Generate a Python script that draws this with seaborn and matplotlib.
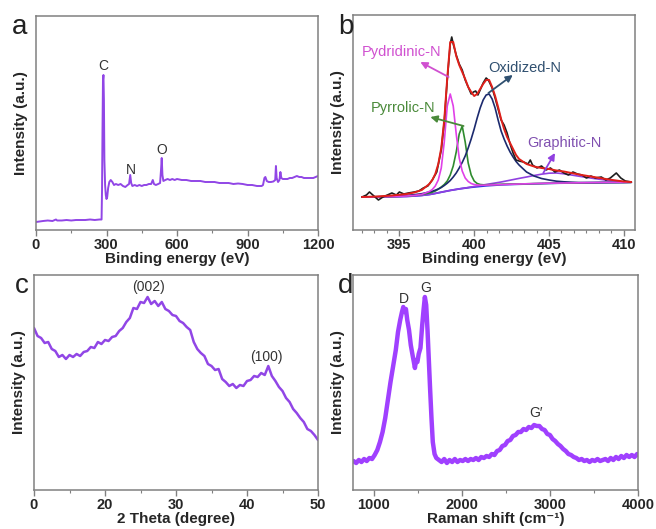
import matplotlib
matplotlib.use("Agg")
import matplotlib.pyplot as plt
import seaborn as sns
from matplotlib.ticker import MultipleLocator, AutoMinorLocator

# ---- panel a: XPS survey ----
survey_ev = [0, 15, 30, 50, 70, 85, 90, 110, 130, 150, 170, 190, 210, 230, 250, 270, 279,
             281, 283, 285, 287, 289, 291, 294, 297, 300, 303, 307, 312, 318, 325, 332, 340,
             350, 360, 370, 380, 390, 396, 401, 405, 410, 420, 430, 440, 450, 460, 470, 480,
             490, 497, 502, 510, 520, 528, 532, 535, 538, 542, 550, 560, 570, 580, 590, 600,
             620, 640, 660, 680, 700, 720, 740, 760, 780, 800, 820, 840, 860, 880, 900, 920,
             940, 960, 966, 972, 976, 982, 990, 1000, 1010, 1018, 1021, 1024, 1030, 1036,
             1040, 1044, 1050, 1060, 1070, 1080, 1090, 1100, 1110, 1120, 1130, 1140, 1150,
             1160, 1170, 1180, 1190, 1200]
survey_int = [8, 8.5, 9, 9.5, 9, 10.5, 9.5, 9.5, 10, 9.5, 10, 10, 10, 10.5, 10, 10.5, 10.5,
              40, 100, 150, 155, 130, 70, 45, 35, 31, 33, 42, 48, 50, 48, 45, 46,
              45, 46, 44, 43, 45, 46, 55, 47, 44, 45, 44, 45, 44, 45, 45, 46,
              46, 50, 46, 45, 46, 47, 60, 72, 55, 49, 50, 51, 50, 51, 50, 51,
              50, 50, 49, 49, 49, 48, 48, 48, 47, 47, 47, 46, 46.5, 46, 45, 45,
              44, 44, 45, 52, 53, 49, 48, 48, 48.5, 50, 64, 52, 48, 50,
              58, 52, 51, 51, 51, 52, 52, 53, 54, 53, 53, 52, 52,
              52, 52, 52, 53, 54]
survey_peaks = ["C", "N", "O"]
survey_peak_ev = [286, 403, 533]
survey_peak_int = [164, 60, 80]

# ---- panel b: N 1s fit ----
n1s_ev = [392.5, 393.5, 394.5, 395.5, 396.0, 396.5,
          397.0, 397.2, 397.4, 397.6, 397.8, 398.0, 398.2, 398.4, 398.6, 398.8,
          399.0, 399.2, 399.4, 399.6, 399.8, 400.0, 400.2, 400.4, 400.6, 400.8,
          401.0, 401.2, 401.4, 401.6, 401.8, 402.0, 402.2, 402.4, 402.6, 402.8, 403.0,
          403.5, 404.0, 404.5, 405.0, 405.5, 406.0, 406.5, 407.0,
          408.0, 409.0, 410.0, 410.5]
n1s_background = [33.0, 33.0, 33.2, 33.6, 34.0, 34.6,
                  35.5, 36.0, 36.6, 37.2, 37.8, 38.4, 39.0, 39.6, 40.1, 40.6,
                  41.1, 41.5, 41.9, 42.3, 42.7, 43.0, 43.3, 43.6, 43.9, 44.2,
                  44.4, 44.6, 44.8, 45.0, 45.2, 45.3, 45.4, 45.5, 45.6, 45.7, 45.8,
                  46.0, 46.2, 46.4, 46.6, 46.8, 46.9, 47.0, 47.1,
                  47.3, 47.5, 47.6, 47.7]
n1s_pyridinic = [33.0, 33.1, 33.4, 34.0, 34.6, 35.6,
                 38.5, 40.5, 44.0, 50.0, 62.0, 88.0, 124.0, 136.0, 124.0, 96.0,
                 72.0, 59.0, 52.0, 48.5, 46.5, 45.5, 45.0, 44.8, 44.8, 44.9,
                 45.0, 45.1, 45.2, 45.3, 45.4, 45.5, 45.6, 45.7, 45.8, 45.9, 46.0,
                 46.2, 46.4, 46.6, 46.8, 46.9, 47.0, 47.1, 47.2,
                 47.4, 47.6, 47.7, 47.8]
n1s_pyrrolic = [33.0, 33.1, 33.4, 34.0, 34.6, 35.5,
                37.0, 37.8, 39.0, 40.8, 43.0, 45.5, 49.0, 55.0, 64.0, 78.0,
                96.0, 104.0, 88.0, 67.0, 55.0, 49.0, 46.5, 45.5, 45.2, 45.2,
                45.3, 45.4, 45.5, 45.6, 45.7, 45.8, 45.8, 45.9, 45.9, 46.0, 46.0,
                46.2, 46.4, 46.5, 46.7, 46.8, 46.9, 47.0, 47.1,
                47.3, 47.5, 47.6, 47.7]
n1s_oxidized = [33.0, 33.3, 33.8, 34.6, 35.3, 36.3,
                38.0, 38.8, 39.8, 41.0, 42.5, 44.5, 46.8, 49.5, 53.0, 57.0,
                62.0, 67.5, 74.0, 82.0, 91.0, 101.0, 112.0, 122.0, 130.0, 135.0,
                136.0, 131.0, 122.0, 110.0, 99.0, 91.0, 84.0, 78.0, 73.0, 68.5, 65.0,
                58.0, 54.0, 51.5, 50.0, 48.8, 48.2, 47.8, 47.5,
                47.4, 47.5, 47.6, 47.7]
n1s_graphitic = [33.0, 33.0, 33.2, 33.6, 34.0, 34.6,
                 35.5, 36.0, 36.6, 37.2, 37.8, 38.4, 39.0, 39.6, 40.1, 40.6,
                 41.1, 41.6, 42.0, 42.5, 43.0, 43.5, 44.0, 44.5, 45.0, 45.5,
                 46.0, 46.5, 47.0, 47.5, 48.0, 48.6, 49.2, 49.8, 50.4, 51.0, 51.6,
                 53.0, 54.5, 55.8, 56.8, 57.0, 56.2, 55.0, 53.8,
                 51.5, 49.5, 48.2, 47.9]
n1s_envelope = [33.0, 33.5, 34.5, 36.0, 37.5, 40.0,
                46.0, 50.0, 56.0, 66.0, 82.0, 110.0, 152.0, 188.0, 188.0, 174.0,
                165.0, 158.0, 151.0, 143.0, 138.0, 134.0, 136.0, 141.0, 146.0, 150.0,
                150.0, 143.0, 134.0, 123.0, 111.0, 101.0, 93.0, 87.0, 81.0, 75.0, 71.0,
                66.0, 63.5, 62.0, 61.0, 59.5, 58.5, 57.0, 55.5,
                53.0, 50.5, 48.5, 48.0]
raw_ev = [392.5, 392.8, 393.0, 393.3, 393.6, 393.9, 394.2, 394.5, 394.8, 395.0, 395.3,
          395.6, 396.0, 396.3, 396.6, 396.9, 397.2, 397.5, 397.8, 398.0, 398.2, 398.4,
          398.5, 398.6, 398.8, 399.0, 399.2, 399.4, 399.6, 399.8, 399.95, 400.1, 400.25,
          400.4, 400.6, 400.8, 400.95, 401.2, 401.4, 401.6, 401.8, 402.0, 402.2, 402.4,
          402.6, 402.8, 403.0, 403.3, 403.6, 403.75, 403.9, 404.2, 404.5, 404.8, 405.1,
          405.4, 405.7, 406.0, 406.3, 406.6, 406.9, 407.2, 407.5, 407.8, 408.1, 408.5,
          408.8, 409.1, 409.5, 409.8, 410.1, 410.5]
raw_int = [33, 35, 38, 34, 30, 33, 35, 37, 35, 38, 36,
           37, 38, 39, 42, 44, 50, 58, 80, 108, 150, 186,
           193, 186, 175, 166, 160, 150, 143, 136, 138, 139, 135,
           140, 147, 152, 150, 142, 132, 121, 110, 105, 97, 86,
           77, 70, 69, 68, 66, 70, 65, 62, 64, 60, 62,
           58, 60, 57, 55, 58, 56, 55, 52, 54, 52, 53,
           50, 52, 57, 52, 49, 48]
n1s_labels = ["Pydridinic-N", "Pyrrolic-N", "Oxidized-N", "Graphitic-N"]
n1s_label_xy = [(395.17, 178), (395.23, 122), (403.4, 162), (406.0, 87)]
n1s_arrow_tail = [(398.29, 153), (399.29, 104), (400.95, 137), (404.62, 57)]
n1s_arrow_head = [(396.4, 168), (397.07, 113), (402.58, 155), (405.4, 77)]

# ---- panel c: XRD ----
xrd_2theta = [10.0, 10.5, 11.0, 11.5, 12.0, 12.5, 13.0, 13.5, 14.0, 14.5, 15.0, 15.5, 16.0,
              16.5, 17.0, 17.5, 18.0, 18.5, 19.0, 19.5, 20.0, 20.5, 21.0, 21.5, 22.0, 22.5,
              23.0, 23.5, 24.0, 24.5, 25.0, 25.5, 26.0, 26.5, 27.0, 27.5, 28.0, 28.5, 29.0,
              29.5, 30.0, 30.5, 31.0, 31.5, 32.0, 32.5, 33.0, 33.5, 34.0, 34.5, 35.0, 35.5,
              36.0, 36.5, 37.0, 37.5, 38.0, 38.5, 39.0, 39.5, 40.0, 40.5, 41.0, 41.5, 42.0,
              42.5, 43.0, 43.5, 44.0, 44.5, 45.0, 45.5, 46.0, 46.5, 47.0, 47.5, 48.0, 48.5,
              49.0, 49.5, 50.0]
xrd_int = [162, 154, 152, 147, 148, 141, 139, 133, 135, 131, 135, 133, 136,
           134, 138, 139, 143, 142, 148, 146, 150, 149, 153, 154, 159, 162,
           168, 172, 182, 181, 188, 187, 193, 186, 189, 184, 188, 181, 179,
           175, 174, 169, 167, 163, 160, 148, 141, 137, 134, 126, 124, 120,
           121, 111, 108, 104, 106, 102, 105, 104, 109, 110, 114, 113, 117,
           115, 124, 114, 109, 103, 99, 92, 88, 81, 77, 72, 68, 61,
           59, 55, 50]
xrd_peaks = ["(002)", "(100)"]
xrd_peak_x = [26.1, 42.7]
xrd_peak_y = [203, 133]
xrd_ticks = [10, 20, 30, 40, 50]
xrd_ticklabels = ["0", "20", "30", "40", "50"]

# ---- panel d: Raman ----
raman_shift = [770, 800, 830, 860, 890, 920, 950, 980, 1010, 1040, 1070, 1100, 1130, 1160,
               1190, 1220, 1250, 1275, 1300, 1320, 1335, 1350, 1365, 1380, 1400, 1420, 1440,
               1455, 1467, 1480, 1495, 1510, 1530, 1550, 1565, 1580, 1595, 1610, 1625, 1640,
               1655, 1670, 1690, 1710, 1740, 1770, 1800, 1830, 1860, 1890, 1920, 1950, 1980,
               2010, 2040, 2070, 2100, 2130, 2160, 2190, 2220, 2250, 2280, 2310, 2340, 2370,
               2400, 2430, 2460, 2490, 2520, 2550, 2580, 2610, 2640, 2670, 2700, 2730, 2760,
               2790, 2820, 2850, 2880, 2910, 2940, 2970, 3000, 3030, 3060, 3090, 3120, 3150,
               3180, 3210, 3240, 3270, 3300, 3330, 3360, 3390, 3420, 3450, 3480, 3510, 3540,
               3570, 3600, 3630, 3660, 3690, 3720, 3750, 3780, 3810, 3840, 3870, 3900, 3930,
               3960, 3990, 4000]
raman_int = [29, 27, 30, 28, 31, 29, 32, 31, 35, 40, 48, 58, 72, 90,
             108, 124, 140, 158, 170, 178, 183, 178, 181, 170, 160, 145, 135,
             128, 122, 130, 128, 136, 142, 165, 180, 193, 185, 160, 130, 100,
             72, 48, 36, 32, 30, 28, 31, 27, 30, 28, 31, 28, 30,
             29, 31, 29, 31, 30, 32, 30, 33, 32, 34, 33, 36, 35,
             39, 40, 44, 45, 49, 50, 54, 55, 58, 58, 61, 60, 63,
             62, 65, 64, 64, 61, 60, 56, 55, 51, 49, 46, 44, 41,
             39, 36, 35, 33, 32, 30, 31, 29, 30, 28, 30, 29, 31,
             29, 30, 31, 29, 32, 30, 33, 31, 34, 32, 35, 33, 35,
             33, 36, 35]
raman_peaks = ["D", "G", "G\u2032"]
raman_peak_x = [1346, 1585, 2840]
raman_peak_y = [191, 202, 77]

sns.set_theme(style="white")
plt.rcParams["font.family"] = ["Liberation Sans", "DejaVu Sans"]

W, H = 656, 529
fig = plt.figure(figsize=(W / 100, H / 100), dpi=100)


def px_axes(left, top, right, bottom):
    return fig.add_axes([left / W, 1 - bottom / H, (right - left) / W, (bottom - top) / H])


def style_axes(ax, xlabel):
    for s in ax.spines.values():
        s.set_color("#808080")
        s.set_linewidth(1.1)
    ax.set_yticks([])
    ax.set_ylabel("Intensity (a.u.)", fontsize=11, fontweight="bold", labelpad=6)
    ax.set_xlabel(xlabel, fontsize=11, fontweight="bold", labelpad=0)
    ax.tick_params(axis="x", which="major", direction="out", length=4, width=1,
                   color="#808080", pad=2, labelsize=10.5, bottom=True)
    ax.tick_params(axis="x", which="minor", direction="out", length=2.5, width=0.8,
                   color="#808080", bottom=True)
    for lab in ax.get_xticklabels():
        lab.set_fontweight("bold")


# a
ax_a = px_axes(36, 16, 318, 230)
sns.lineplot(x=survey_ev, y=survey_int, ax=ax_a, color="#9146e6", lw=1.4)
ax_a.set_xlim(0, 1200)
ax_a.set_ylim(0, 214)
ax_a.xaxis.set_major_locator(MultipleLocator(300))
ax_a.xaxis.set_minor_locator(MultipleLocator(150))
for t, x, y in zip(survey_peaks, survey_peak_ev, survey_peak_int):
    ax_a.text(x, y, t, ha="center", va="center", fontsize=10, color="#333333")
style_axes(ax_a, "Binding energy (eV)")

# b
ax_b = px_axes(353, 15, 635, 230)
sns.lineplot(x=n1s_ev, y=n1s_background, ax=ax_b, color="#3434e0", lw=1.3)
sns.lineplot(x=n1s_ev, y=n1s_graphitic, ax=ax_b, color="#9040e0", lw=1.2)
sns.lineplot(x=n1s_ev, y=n1s_pyrrolic, ax=ax_b, color="#2e8b2e", lw=1.2)
sns.lineplot(x=n1s_ev, y=n1s_oxidized, ax=ax_b, color="#1c2a6e", lw=1.2)
sns.lineplot(x=n1s_ev, y=n1s_pyridinic, ax=ax_b, color="#e040e8", lw=1.2)
sns.lineplot(x=raw_ev, y=raw_int, ax=ax_b, color="#1e1e1e", lw=1.2)
sns.lineplot(x=n1s_ev, y=n1s_envelope, ax=ax_b, color="#e0201a", lw=1.4)
ax_b.set_xlim(391.9, 410.75)
ax_b.set_ylim(0, 215)
ax_b.xaxis.set_major_locator(MultipleLocator(5))
ax_b.xaxis.set_minor_locator(AutoMinorLocator(6))
label_colors = ["#d050d0", "#4a8a3a", "#2f4f6f", "#8050b0"]
arrow_colors = ["#d050d0", "#4a8a3a", "#2f5070", "#9040e0"]
for t, xy, tail, head, tc, ac in zip(n1s_labels, n1s_label_xy, n1s_arrow_tail,
                                     n1s_arrow_head, label_colors, arrow_colors):
    ax_b.text(xy[0], xy[1], t, ha="center", va="center", fontsize=10.5, color=tc)
    ax_b.annotate("", xy=head, xytext=tail,
                  arrowprops=dict(arrowstyle="-|>", color=ac, lw=1.3, mutation_scale=10,
                                  shrinkA=0, shrinkB=0))
style_axes(ax_b, "Binding energy (eV)")

# c
ax_c = px_axes(34, 275, 318, 490)
sns.lineplot(x=xrd_2theta, y=xrd_int, ax=ax_c, color="#9146e6", lw=1.8)
ax_c.set_xlim(10, 50)
ax_c.set_ylim(0, 215)
ax_c.set_xticks(xrd_ticks)
ax_c.set_xticklabels(xrd_ticklabels)
ax_c.xaxis.set_minor_locator(MultipleLocator(5))
for t, x, y in zip(xrd_peaks, xrd_peak_x, xrd_peak_y):
    ax_c.text(x, y, t, ha="center", va="center", fontsize=10, color="#333333")
style_axes(ax_c, "2 Theta (degree)")

# d
ax_d = px_axes(353, 275, 638, 490)
sns.lineplot(x=raman_shift, y=raman_int, ax=ax_d, color="#a040ff", lw=3.2)
ax_d.set_xlim(764, 4000)
ax_d.set_ylim(0, 215)
ax_d.xaxis.set_major_locator(MultipleLocator(1000))
ax_d.xaxis.set_minor_locator(MultipleLocator(500))
for t, x, y in zip(raman_peaks, raman_peak_x, raman_peak_y):
    ax_d.text(x, y, t, ha="center", va="center", fontsize=10, color="#333333")
style_axes(ax_d, "Raman shift (cm\u207b\u00b9)")

# panel letters
for letter, x, y in [("a", 12, 34), ("b", 338, 34), ("c", 15, 293), ("d", 338, 293)]:
    fig.text(x / W, 1 - y / H, letter, fontsize=20, va="baseline", ha="left", color="#222222")

fig.savefig("out.png", dpi=100)
